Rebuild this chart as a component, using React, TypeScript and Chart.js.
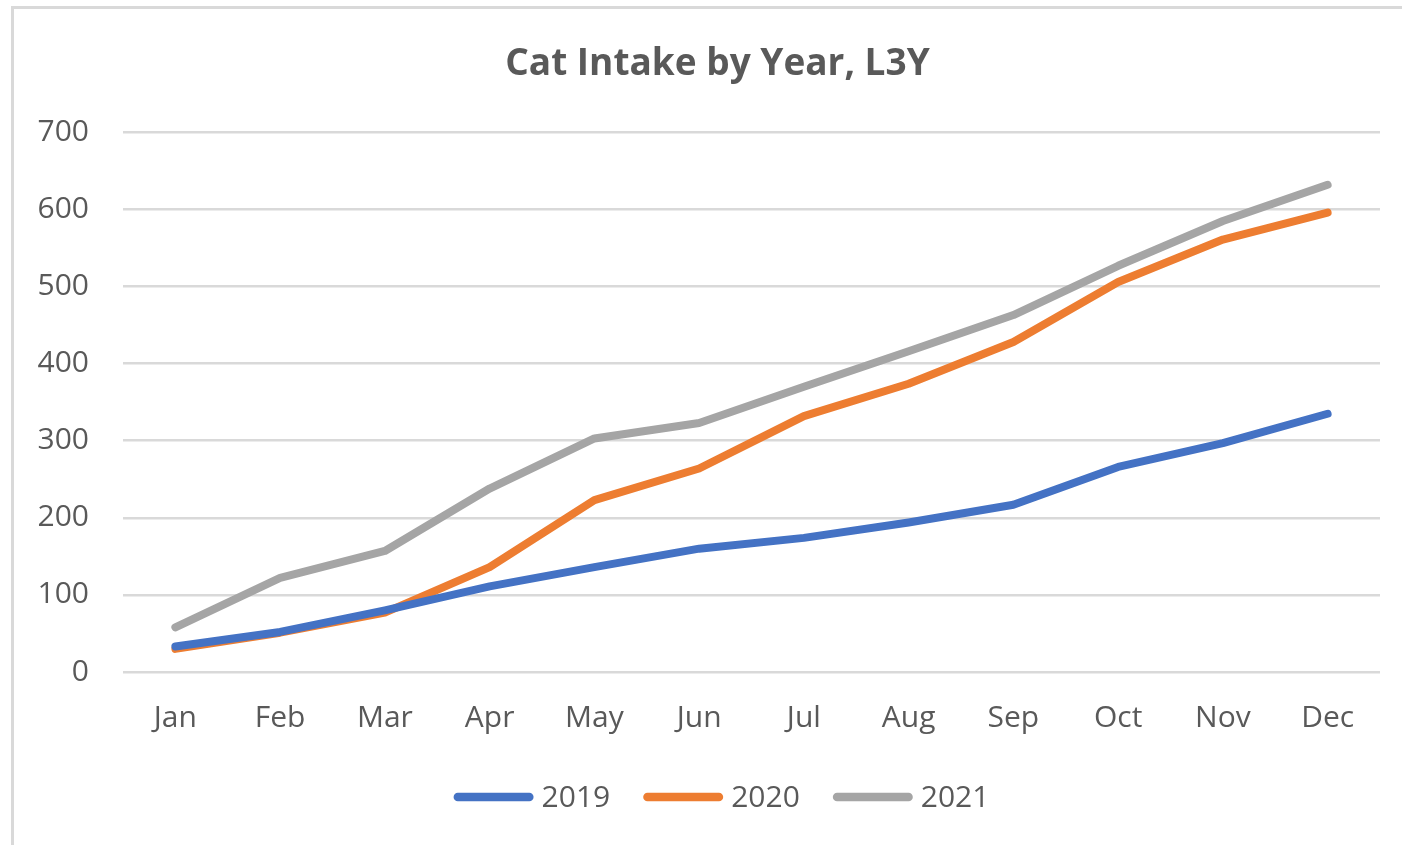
import React, { useEffect, useRef } from "react";
import { Chart, registerables } from "chart.js";

Chart.register(...registerables);

const months = ["Jan", "Feb", "Mar", "Apr", "May", "Jun", "Jul", "Aug", "Sep", "Oct", "Nov", "Dec"];
const series2019 = [33, 52, 80, 111, 136, 160, 174, 194, 217, 266, 297, 335];
const series2020 = [30, 51, 77, 136, 223, 264, 332, 374, 428, 506, 561, 596];
const series2021 = [58, 122, 157, 238, 303, 323, 370, 416, 463, 527, 585, 632];
const yTicks = [0, 100, 200, 300, 400, 500, 600, 700];

const FONT = "'Open Sans', 'Noto Sans', sans-serif";
const TEXT = "#595959";

const titleShift = {
  id: "titleShift",
  afterLayout(chart: any) {
    if (chart.titleBlock) {
      chart.titleBlock.left += 55;
    }
  },
};

const legendPlugin = {
  id: "excelLegend",
  afterDraw(chart: any) {
    const ctx = chart.ctx;
    ctx.save();
    ctx.font = `30px ${FONT}`;
    const lineLen = 80;
    const gap = 8;
    const itemGap = 33;
    const items = chart.data.datasets.map((d: any) => ({
      label: d.label,
      color: d.borderColor,
      tw: ctx.measureText(d.label).width,
    }));
    const total =
      items.reduce((a: number, it: any) => a + lineLen + gap + it.tw, 0) + itemGap * (items.length - 1);
    const cx = (chart.chartArea.left + chart.chartArea.right) / 2 - 30;
    let x = cx - total / 2;
    const y = 797;
    for (const it of items) {
      ctx.strokeStyle = it.color;
      ctx.lineWidth = 8.5;
      ctx.lineCap = "round";
      ctx.beginPath();
      ctx.moveTo(x + 4.25, y);
      ctx.lineTo(x + lineLen - 4.25, y);
      ctx.stroke();
      ctx.fillStyle = TEXT;
      ctx.textBaseline = "middle";
      ctx.textAlign = "left";
      ctx.fillText(it.label, x + lineLen + gap, y + 1);
      x += lineLen + gap + it.tw + itemGap;
    }
    ctx.restore();
  },
};

export default function App() {
  const ref = useRef<HTMLCanvasElement | null>(null);

  useEffect(() => {
    if (!ref.current) return;
    const mk = (label: string, data: number[], color: string) => ({
      label,
      data,
      borderColor: color,
      backgroundColor: color,
      borderWidth: 8,
      borderCapStyle: "round" as const,
      borderJoinStyle: "round" as const,
      pointRadius: 0,
      pointHoverRadius: 0,
      tension: 0,
      fill: false,
    });
    const chart = new Chart(ref.current, {
      type: "line",
      data: {
        labels: months,
        datasets: [
          mk("2019", series2019, "#4472C4"),
          mk("2020", series2020, "#ED7D31"),
          mk("2021", series2021, "#A5A5A5"),
        ],
      },
      plugins: [titleShift, legendPlugin],
      options: {
        animation: false,
        responsive: false,
        maintainAspectRatio: false,
        layout: { padding: { left: 0, right: 22, top: 0, bottom: 96 } },
        plugins: {
          tooltip: { enabled: false },
          legend: { display: false },
          title: {
            display: true,
            text: "Cat Intake by Year, L3Y",
            color: TEXT,
            font: { family: FONT, size: 37, weight: "bold" },
            padding: { top: 42, bottom: 46 },
          },
        },
        scales: {
          x: {
            offset: true,
            grid: { display: false, drawTicks: false },
            border: { display: false },
            ticks: {
              color: TEXT,
              font: { family: FONT, size: 30 },
              padding: 28,
              maxRotation: 0,
              autoSkip: false,
            },
            afterFit: (s: any) => {
              s.height = 77;
            },
          },
          y: {
            min: 0,
            max: 700,
            afterBuildTicks: (s: any) => {
              s.ticks = yTicks.map((v) => ({ value: v }));
            },
            grid: { color: "#d9d9d9", lineWidth: 2.5, drawTicks: false },
            border: { display: false },
            ticks: {
              color: TEXT,
              font: { family: FONT, size: 30 },
              padding: 34,
            },
            afterFit: (s: any) => {
              s.width = 123;
            },
          },
        },
      },
    });
    return () => chart.destroy();
  }, []);

  return (
    <div style={{ position: "fixed", left: 0, top: 0, width: 1402, height: 845, overflow: "hidden", background: "#fff" }}>
      <div
        style={{
          position: "absolute",
          left: 11,
          top: 6,
          width: 1420,
          height: 900,
          border: "3px solid #d9d9d9",
          boxSizing: "border-box",
        }}
      />
      <canvas ref={ref} width={1402} height={845} style={{ position: "absolute", left: 0, top: 0 }} />
    </div>
  );
}
